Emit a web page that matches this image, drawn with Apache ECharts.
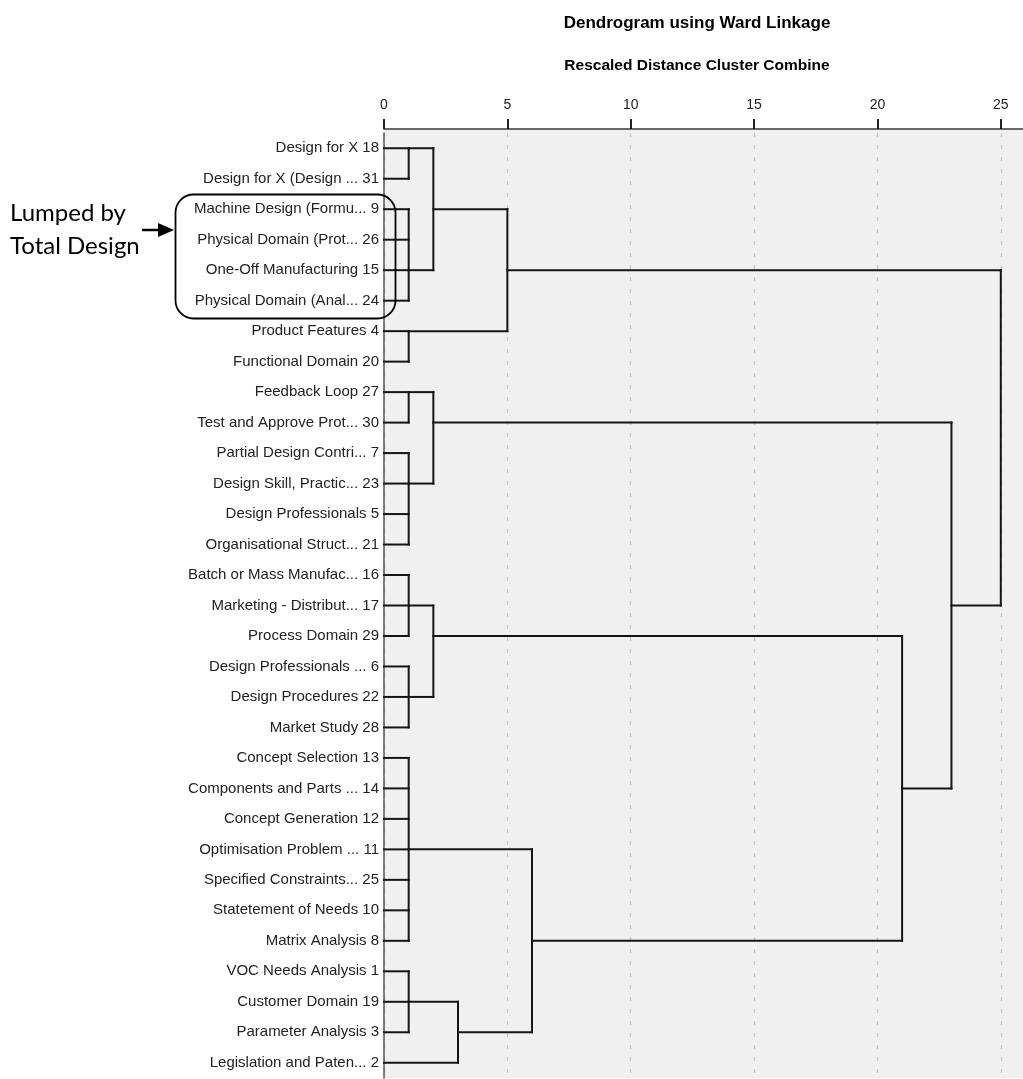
<!DOCTYPE html>
<html>
<head>
<meta charset="utf-8">
<script src="https://cdn.jsdelivr.net/npm/echarts@6/dist/echarts.min.js"></script>
<style>
html,body{margin:0;padding:0;background:#fff;}
#main{width:1023px;height:1079px;}
</style>
</head>
<body>
<div id="main"></div>
<script>
// Leaf labels, top to bottom
const leafLabels = [
  'Design for X 18',
  'Design for X (Design ... 31',
  'Machine Design (Formu... 9',
  'Physical Domain (Prot... 26',
  'One-Off Manufacturing 15',
  'Physical Domain (Anal... 24',
  'Product Features 4',
  'Functional Domain 20',
  'Feedback Loop 27',
  'Test and Approve Prot... 30',
  'Partial Design Contri... 7',
  'Design Skill, Practic... 23',
  'Design Professionals 5',
  'Organisational Struct... 21',
  'Batch or Mass Manufac... 16',
  'Marketing - Distribut... 17',
  'Process Domain 29',
  'Design Professionals ... 6',
  'Design Procedures 22',
  'Market Study 28',
  'Concept Selection 13',
  'Components and Parts ... 14',
  'Concept Generation 12',
  'Optimisation Problem ... 11',
  'Specified Constraints... 25',
  'Statetement of Needs 10',
  'Matrix Analysis 8',
  'VOC Needs Analysis 1',
  'Customer Domain 19',
  'Parameter Analysis 3',
  'Legislation and Paten... 2'
];

// Clusters: children are leaf indices (numbers) or cluster ids ('c' + index)
const clusterChildren = [
  [0, 1],                       // c0
  [2, 3, 4, 5],                 // c1
  ['c0', 'c1'],                 // c2
  [6, 7],                       // c3
  ['c2', 'c3'],                 // c4
  [8, 9],                       // c5
  [10, 11, 12, 13],             // c6
  ['c5', 'c6'],                 // c7
  [14, 15, 16],                 // c8
  [17, 18, 19],                 // c9
  ['c8', 'c9'],                 // c10
  [20, 21, 22, 23, 24, 25, 26], // c11
  [27, 28, 29],                 // c12
  ['c12', 30],                  // c13
  ['c11', 'c13'],               // c14
  ['c10', 'c14'],               // c15
  ['c7', 'c15'],                // c16
  ['c4', 'c16']                 // c17
];
// Rescaled distance at which each cluster combines
const clusterDistance = [1, 1, 2, 1, 5, 1, 1, 2, 1, 1, 2, 1, 1, 3, 6, 21, 23, 25];
// Row (leaf index) from which each cluster's link line leaves
const clusterAnchorRow = [0, 4, 2, 6, 4, 8, 11, 9, 15, 18, 16, 23, 28, 29, 26, 21, 15, 15];

const xTicks = [0, 5, 10, 15, 20, 25];

// Build segments [x1, y1, x2, y2] in data units (x = distance, y = leaf row)
function nodeInfo(ref) {
  if (typeof ref === 'number') return { d: 0, row: ref };
  const i = parseInt(ref.slice(1), 10);
  return { d: clusterDistance[i], row: clusterAnchorRow[i] };
}
const segments = [];
clusterChildren.forEach(function (children, i) {
  const d = clusterDistance[i];
  const rows = [];
  children.forEach(function (c) {
    const info = nodeInfo(c);
    rows.push(info.row);
    segments.push([info.d, info.row, d, info.row]);
  });
  segments.push([d, Math.min.apply(null, rows), d, Math.max.apply(null, rows)]);
});

const chart = echarts.init(document.getElementById('main'), null, { renderer: 'canvas' });
const FONT = '"Liberation Sans", Arial, sans-serif';

chart.setOption({
  animation: false,
  backgroundColor: '#ffffff',
  title: [
    {
      text: 'Dendrogram using Ward Linkage',
      left: 692, top: 10, textAlign: 'center',
      textStyle: { fontSize: 17, fontWeight: 'bold', color: '#000', fontFamily: FONT }
    },
    {
      text: 'Rescaled Distance Cluster Combine',
      left: 692, top: 53, textAlign: 'center',
      textStyle: { fontSize: 15.5, fontWeight: 'bold', color: '#000', fontFamily: FONT }
    }
  ],
  grid: {
    left: 384, right: 0, top: 133, bottom: 1,
    show: true, backgroundColor: '#f0f0f0', borderWidth: 0
  },
  xAxis: {
    type: 'value',
    position: 'top',
    offset: 4,
    min: 0,
    max: 25.9,
    interval: 5,
    axisLine: { show: true, lineStyle: { color: '#3a3a3a', width: 1.5 } },
    axisTick: { show: true, inside: false, length: 10, lineStyle: { color: '#222', width: 2 }, customValues: xTicks },
    axisLabel: { show: true, margin: 17, fontSize: 14, color: '#222', fontFamily: FONT, customValues: xTicks },
    splitLine: { show: true, lineStyle: { color: '#c8c8c8', width: 1.2, type: [4, 8] } }
  },
  yAxis: {
    type: 'category',
    inverse: true,
    data: leafLabels,
    axisLine: { show: true, lineStyle: { color: '#555', width: 1.5 } },
    axisTick: { show: false },
    axisLabel: { margin: 5, fontSize: 15, color: '#222', fontFamily: FONT, interval: 0 },
    splitLine: { show: false }
  },
  graphic: [
    { type: 'rect', left: 384, top: 129, shape: { width: 639, height: 4 }, style: { fill: '#f0f0f0' }, z: 0, silent: true },
    { type: 'text', left: 10, top: 201, style: { text: 'Lumped by', font: '24px Lato, "Open Sans", sans-serif', fill: '#000' } },
    { type: 'text', left: 10, top: 234, style: { text: 'Total Design', font: '24px Lato, "Open Sans", sans-serif', fill: '#000' } },
    { type: 'line', shape: { x1: 142, y1: 230, x2: 160, y2: 230 }, style: { stroke: '#000', lineWidth: 2.5 } },
    { type: 'polygon', shape: { points: [[158, 223], [174, 230], [158, 237]] }, style: { fill: '#000' } },
    { type: 'rect', shape: { x: 175.5, y: 194.5, width: 220, height: 124, r: 18 }, style: { fill: 'none', stroke: '#000', lineWidth: 1.8 }, z: 100 }
  ],
  series: [{
    type: 'custom',
    data: segments,
    encode: { x: [0, 2], y: [1, 3] },
    clip: false,
    z: 10,
    renderItem: function (params, api) {
      const p1 = api.coord([api.value(0), api.value(1)]);
      const p2 = api.coord([api.value(2), api.value(3)]);
      return {
        type: 'line',
        shape: { x1: p1[0], y1: p1[1], x2: p2[0], y2: p2[1] },
        style: { stroke: '#151515', lineWidth: 2, lineCap: 'square' }
      };
    }
  }]
});
</script>
</body>
</html>
